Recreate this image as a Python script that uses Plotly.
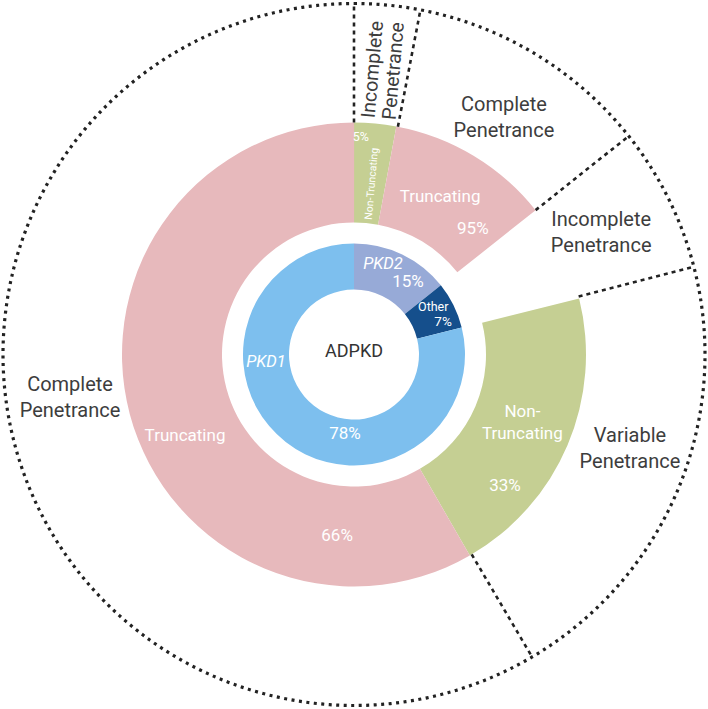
import numpy as np
import plotly.graph_objects as go

# ---------------- data ----------------
# inner ring: gene share of ADPKD (drawn share in %, label)
inner_names = ["PKD2", "Other", "PKD1"]
inner_share = [14.3, 6.8, 78.9]
inner_pct_labels = ["15%", "7%", "78%"]

# outer ring: variant classes, clockwise from 12 o'clock (drawn share in %)
outer_names = ["Non-Truncating (PKD2)", "Truncating (PKD2)", "(Other)", "Non-Truncating (PKD1)", "Truncating (PKD1)"]
outer_share = [2.92, 11.39, 6.81, 20.56, 58.33]
outer_kind = ["nontrunc", "trunc", "none", "nontrunc", "trunc"]
outer_pct_labels = ["5%", "95%", "", "33%", "66%"]

penetrance_labels = ["Incomplete<br>Penetrance", "Complete<br>Penetrance", "Incomplete<br>Penetrance",
                     "Variable<br>Penetrance", "Complete<br>Penetrance"]

# ---------------- styles ----------------
C_PINK = "#E7B9BC"
C_GREEN = "#C5CF93"
C_PKD1 = "#7DBFEE"
C_PKD2 = "#97AAD7"
C_OTHER = "#154F8C"
kind_color = {"trunc": C_PINK, "nontrunc": C_GREEN, "none": "rgba(0,0,0,0)"}
inner_colors = [C_PKD2, C_OTHER, C_PKD1]

R_IN0, R_IN1 = 65, 111      # inner donut radii
R_OUT0, R_OUT1 = 132, 232   # outer ring radii
R_CIRCLE = 351              # dashed outer circle
FONT = "Roboto"
W, H = 708, 709

fig = go.Figure()

# inner donut
deg = [s * 3.6 for s in inner_share]
starts = np.concatenate([[0], np.cumsum(deg)[:-1]])
fig.add_trace(go.Barpolar(
    theta=[s + d / 2 for s, d in zip(starts, deg)], width=deg,
    r=[R_IN1 - R_IN0] * 3, base=[R_IN0] * 3,
    marker=dict(color=inner_colors, line=dict(width=0)),
    hoverinfo="skip", showlegend=False))

# outer ring
odeg = [s * 3.6 for s in outer_share]
ostarts = np.concatenate([[0], np.cumsum(odeg)[:-1]])
fig.add_trace(go.Barpolar(
    theta=[s + d / 2 for s, d in zip(ostarts, odeg)], width=odeg,
    r=[R_OUT1 - R_OUT0] * len(odeg), base=[R_OUT0] * len(odeg),
    marker=dict(color=[kind_color[k] for k in outer_kind], line=dict(width=0)),
    hoverinfo="skip", showlegend=False))

# dashed outer circle
th = np.linspace(0, 360, 721)
fig.add_trace(go.Scatterpolar(r=[R_CIRCLE] * len(th), theta=th, mode="lines",
                              line=dict(color="#222222", width=3.2, dash="3px,4.5px"),
                              hoverinfo="skip", showlegend=False))

# dashed radial separators at the outer-ring boundaries
bounds = [0, odeg[0] + 0.4, odeg[0] + odeg[1], odeg[0] + odeg[1] + odeg[2] - 0.5, 360 - odeg[4] - 0.5]
for b in bounds:
    fig.add_trace(go.Scatterpolar(r=[R_OUT1, R_CIRCLE], theta=[b, b], mode="lines",
                                  line=dict(color="#222222", width=2.6, dash="4px,4px"),
                                  hoverinfo="skip", showlegend=False))


def txt(r, t, text, size, color="white"):
    fig.add_trace(go.Scatterpolar(r=[r], theta=[t], mode="text", text=[text],
                                  textfont=dict(family=FONT, size=size, color=color),
                                  hoverinfo="skip", showlegend=False))


# inner labels
txt(94, 18, "<i>" + inner_names[0] + "</i>", 16.5)
txt(89.6, 37, inner_pct_labels[0], 17)
txt(92, 59.5, inner_names[1], 12.5)
txt(94.5, 70.5, inner_pct_labels[1], 13.5)
txt(88.4, 264.5, "<i>" + inner_names[2] + "</i>", 16.5)
txt(81, 186.4, inner_pct_labels[2], 17)
txt(2, 0, "ADPKD", 18, "#333333")

# outer ring labels
txt(216.6, 1.8, outer_pct_labels[0], 12.5)
txt(178.6, 28.8, "Truncating", 17)
txt(172, 43.7, outer_pct_labels[1], 17)
txt(182, 112.3, "Non-<br>Truncating", 17)
txt(201, 131.3, outer_pct_labels[3], 17)
txt(188, 244, "Truncating", 17)
txt(183, 185.3, outer_pct_labels[4], 17)

# penetrance labels (outside ring)
GRAY = "#3d3d3d"
txt(279, 32.5, penetrance_labels[1], 20, GRAY)
txt(275, 64, penetrance_labels[2], 20, GRAY)
txt(292, 109.1, penetrance_labels[3], 20, GRAY)
txt(287.5, 261, penetrance_labels[4], 20, GRAY)


def to_paper(r, t):
    a = np.radians(t)
    x = W / 2 + r * np.sin(a)
    y = H / 2 - r * np.cos(a)
    return x / W, 1 - y / H


ann = []
top_lines = penetrance_labels[0].split("<br>")
for line, (rr, tt) in zip(top_lines, [(286, 3.6), (286, 7.8)]):
    x, y = to_paper(rr, tt)
    ann.append(dict(x=x, y=y, xref="paper", yref="paper", xanchor="center", yanchor="middle",
                    text=line, showarrow=False,
                    textangle=-85, font=dict(family=FONT, size=19.5, color=GRAY)))
x, y = to_paper(172, 5.8)
ann.append(dict(x=x, y=y, xref="paper", yref="paper", xanchor="center", yanchor="middle",
                text="Non-Truncating", showarrow=False,
                textangle=-85, font=dict(family=FONT, size=10.5, color="white")))

fig.update_layout(
    width=W, height=H, margin=dict(l=0, r=0, t=0, b=0),
    paper_bgcolor="white", plot_bgcolor="white",
    polar=dict(
        domain=dict(x=[0, 1], y=[0, 1]),
        bgcolor="white",
        radialaxis=dict(visible=False, range=[0, 354]),
        angularaxis=dict(visible=False, rotation=90, direction="clockwise"),
    ),
    annotations=ann,
    showlegend=False,
)

fig.write_html("out.html", include_plotlyjs=True, full_html=True,
               config={"displayModeBar": False},
               post_script="document.body.style.margin='0';document.body.style.overflow='hidden';")
